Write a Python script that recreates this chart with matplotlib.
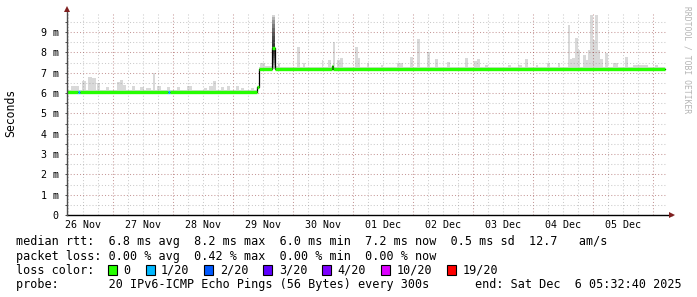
import numpy as np
import matplotlib
matplotlib.use("Agg")
import matplotlib.pyplot as plt
from matplotlib.patches import Rectangle
from matplotlib.ticker import FixedLocator, FuncFormatter

# ---------------- data (time in hours since 26 Nov 00:00, values in ms) ----------------
x_start, x_end = 5.544, 245.544          # 26 Nov 05:32:40 -> 06 Dec 05:32:40
day_labels = ["26 Nov", "27 Nov", "28 Nov", "29 Nov", "30 Nov",
              "01 Dec", "02 Dec", "03 Dec", "04 Dec", "05 Dec"]
y_values = [0, 1, 2, 3, 4, 5, 6, 7, 8, 9]

# median rtt (step segments) and loss per segment (pings lost of 20)
median_edges = [5.5, 10.0, 10.7, 46.0, 46.8, 81.5, 82.3, 87.6, 88.7, 111.4, 112.0, 244.7]
median_ms    = [6.05, 6.05, 6.05, 6.05, 6.05, 6.30, 7.20, 8.20, 7.20, 7.32, 7.20]
median_loss  = [0, 1, 0, 1, 0, 0, 0, 0, 0, 0, 0]

# background smoke level
smoke_base_edges = [5.5, 81.5, 82.3, 244.7]
smoke_base_top   = [6.15, 6.35, 7.30]

# smoke peaks (start hour, end hour, top in ms)
smoke_start = [7.0, 11.6, 13.9, 15.6, 17.6, 21.0, 25.6, 26.7, 28.0, 31.6,
               34.7, 37.0, 40.0, 41.6, 45.6, 49.6, 53.6, 60.3, 62.3, 64.0,
               67.0, 69.6, 73.0, 75.0, 79.0,
               82.7, 84.7, 88.7, 90.1, 97.6, 99.8, 107.4, 109.8, 111.8, 113.6,
               114.7, 120.7, 122.0, 125.4, 131.0, 137.4, 142.7, 145.6, 149.4, 152.7,
               157.4, 164.7, 168.4, 169.7, 172.7, 182.0, 186.0, 188.7, 193.0, 197.4,
               201.8, 205.8, 206.7, 207.6, 208.7, 209.8, 212.0, 213.0, 213.8, 214.7,
               216.0, 216.7, 217.8, 218.7, 220.7, 224.0, 228.7, 232.0, 240.7]
smoke_end   = [10.3, 13.0, 15.6, 17.0, 18.7, 22.3, 26.7, 28.0, 29.0, 32.6,
               36.3, 39.0, 40.7, 43.0, 46.7, 50.7, 55.6, 61.6, 64.0, 65.0,
               68.3, 70.7, 74.3, 76.3, 80.3,
               84.7, 87.6, 90.1, 90.7, 98.7, 100.7, 108.0, 111.1, 112.7, 114.7,
               116.0, 122.0, 122.7, 126.4, 132.0, 140.0, 143.8, 146.7, 150.7, 154.0,
               158.7, 166.0, 169.7, 170.7, 173.9, 183.0, 187.5, 190.0, 194.0, 198.7,
               202.7, 206.7, 207.6, 208.7, 209.8, 210.7, 213.0, 213.8, 214.7, 216.0,
               216.7, 217.8, 218.7, 220.0, 221.8, 225.8, 230.0, 238.0, 242.0]
smoke_top   = [6.35, 6.60, 6.77, 6.75, 6.50, 6.30, 6.52, 6.62, 6.40, 6.35,
               6.30, 6.25, 7.00, 6.35, 6.30, 6.30, 6.35, 6.25, 6.35, 6.60,
               6.30, 6.35, 6.35, 6.25, 6.25,
               7.46, 7.35, 7.35, 7.46, 8.28, 7.50, 7.60, 7.60, 8.50, 7.60,
               7.70, 8.25, 7.70, 7.46, 7.40, 7.50, 7.75, 8.67, 8.00, 7.65,
               7.55, 7.70, 7.57, 7.65, 7.40, 7.40, 7.40, 7.65, 7.40, 7.50,
               7.50, 9.35, 7.65, 7.70, 8.72, 8.10, 7.85, 7.60, 8.10, 9.84,
               8.60, 9.84, 8.10, 7.65, 7.95, 7.50, 7.75, 7.38, 7.40]

# the 29 Nov spike: individual ping rtts of that slot (sorted)
spike_slot = [87.6, 88.7]
spike_pings = [7.20, 7.30, 7.40, 7.50, 7.60, 7.70, 7.80, 7.90, 8.00, 8.10,
               8.20, 8.40, 8.60, 8.80, 9.00, 9.20, 9.40, 9.60, 9.75, 9.85]

# legend / statistics text
stats_lines = [
    "median rtt:  6.8 ms avg  8.2 ms max  6.0 ms min  7.2 ms now  0.5 ms sd  12.7   am/s",
    "packet loss: 0.00 % avg  0.42 % max  0.00 % min  0.00 % now",
]
loss_labels = ["0", "1/20", "2/20", "3/20", "4/20", "10/20", "19/20"]
loss_levels = [0, 1, 2, 3, 4, 10, 19]
loss_colors = ["#26ff00", "#00b8ff", "#0059ff", "#5e00ff", "#7e00ff", "#dd00ff", "#ff0000"]
probe_text = "probe:       20 IPv6-ICMP Echo Pings (56 Bytes) every 300s"
end_text = "end: Sat Dec  6 05:32:40 2025"

# ---------------- figure ----------------
W, H = 697, 297
fig = plt.figure(figsize=(W / 100, H / 100), dpi=100)
fig.patch.set_facecolor("white")
ax_l, ax_r, ax_t, ax_b = 67, 667, 11.7, 215
ax = fig.add_axes([ax_l / W, (H - ax_b) / H, (ax_r - ax_l) / W, (ax_b - ax_t) / H])
ax.set_facecolor("white")
ax.set_xlim(x_start, x_end)
ax.set_ylim(0, 10)

MONO = "DejaVu Sans Mono"
SMOKE = "#d9d9d9"
color_of = dict(zip(loss_levels, loss_colors))


def median_at(h):
    i = np.searchsorted(median_edges, h, side="right") - 1
    i = min(max(i, 0), len(median_ms) - 1)
    return median_ms[i]


# base smoke
for i in range(len(smoke_base_top)):
    b = median_at(smoke_base_edges[i])
    ax.bar(smoke_base_edges[i], smoke_base_top[i] - b, bottom=b,
           width=smoke_base_edges[i + 1] - smoke_base_edges[i], align="edge",
           color=SMOKE, lw=0, zorder=1)
# peaks
for s, e, t in zip(smoke_start, smoke_end, smoke_top):
    b = median_at(s)
    ax.bar(s, t - b, bottom=b, width=e - s, align="edge", color=SMOKE, lw=0, zorder=1)

# spike with smokeping-style shading
n = len(spike_pings)
for i in range(n // 2):
    ax.bar(spike_slot[0], spike_pings[n - 1 - i] - spike_pings[i], bottom=spike_pings[i],
           width=spike_slot[1] - spike_slot[0], align="edge", color="black",
           alpha=0.16, lw=0, zorder=1.2)

# median: black connecting step line + loss-coloured segments
ax.plot(median_edges, median_ms + [median_ms[-1]], drawstyle="steps-post",
        color="black", lw=0.9, zorder=3)
ax.hlines(median_ms, median_edges[:-1], median_edges[1:],
          colors=[color_of[l] for l in median_loss], lw=2.4, zorder=4)

# ---------------- grid & ticks ----------------
midnights = [24 * (i + 1) for i in range(len(day_labels))]
six_hours = list(np.arange(6, 246, 6))
noons = [24 * i + 12 for i in range(len(day_labels))]

ax.xaxis.set_major_locator(FixedLocator(midnights))
ax.xaxis.set_minor_locator(FixedLocator(six_hours))
ax.xaxis.set_major_formatter(FuncFormatter(lambda v, p: ""))
ax.xaxis.set_minor_formatter(FuncFormatter(
    lambda v, p: day_labels[noons.index(int(round(v)))] if int(round(v)) in noons else ""))

ax.yaxis.set_major_locator(FixedLocator(y_values))
ax.yaxis.set_minor_locator(FixedLocator([v + 0.5 for v in y_values]))
ax.yaxis.set_major_formatter(FuncFormatter(lambda v, p: "0" if v == 0 else f"{int(v)} m"))

ax.set_axisbelow("line")
dot = (0, (1, 2))
ax.grid(which="major", color="#821E1E", alpha=0.45, lw=0.75, linestyle=dot)
ax.grid(which="minor", color="#8C8C8C", alpha=0.45, lw=0.75, linestyle=dot)

ax.tick_params(axis="x", which="both", length=0, pad=3.5, labelsize=7.2)
for lab in ax.get_xticklabels(minor=True):
    lab.set_fontfamily(MONO)
ax.tick_params(axis="y", which="both", length=1.6, width=0.7, color="#4D4D4D",
               pad=4.5, labelsize=7.2)
for lab in ax.get_yticklabels():
    lab.set_fontfamily(MONO)

for sp in ax.spines.values():
    sp.set_visible(False)

# axes with arrows
ax.plot([0, 1.009], [0, 0], transform=ax.transAxes, color="black", lw=1.0,
        clip_on=False, zorder=6)
ax.plot([0, 0], [0, 1.0], transform=ax.transAxes, color="#4D4D4D", lw=1.0,
        clip_on=False, zorder=6)
ax.plot([1.009], [0], transform=ax.transAxes, marker=">", ms=4, color="#7F1F1F",
        clip_on=False, zorder=7, mew=0)
ax.plot([0], [1.012], transform=ax.transAxes, marker="^", ms=4, color="#7F1F1F",
        clip_on=False, zorder=7, mew=0)

ax.set_ylabel("Seconds", fontsize=8.3, family=MONO)
ax.yaxis.label.set_va("center")
ax.yaxis.label.set_ha("center")
ax.yaxis.set_label_coords(-0.093, 0.5)

# watermark
fig.text(687 / W, 1 - 60 / H, "RRDTOOL / TOBI OETIKER", rotation=-90, ha="center",
         va="center", fontsize=5.8, color="#b4b4b4", family=MONO)

# ---------------- legend text ----------------
CH = 7.08  # px per char at legend font size
LF = 8.5


def fx(px):
    return px / W


def fy(py):
    return 1 - py / H


fig.text(fx(16), fy(245.5), stats_lines[0], fontsize=LF, family=MONO, va="baseline")
fig.text(fx(16), fy(259.8), stats_lines[1], fontsize=LF, family=MONO, va="baseline")
fig.text(fx(16), fy(273.8), "loss color:", fontsize=LF, family=MONO, va="baseline")
bx = 108.0
for lab, col in zip(loss_labels, loss_colors):
    fig.add_artist(Rectangle((fx(bx), fy(274.5)), 9 / W, 10 / H, transform=fig.transFigure,
                             facecolor=col, edgecolor="black", lw=0.8))
    tx = bx + 15.5
    fig.text(fx(tx), fy(273.8), lab, fontsize=LF, family=MONO, va="baseline")
    bx = tx + len(lab) * CH + 15
fig.text(fx(16), fy(288), probe_text, fontsize=LF, family=MONO, va="baseline")
fig.text(fx(682), fy(288), end_text, fontsize=LF, family=MONO, va="baseline", ha="right")

fig.savefig("out.png", dpi=100, facecolor="white")
